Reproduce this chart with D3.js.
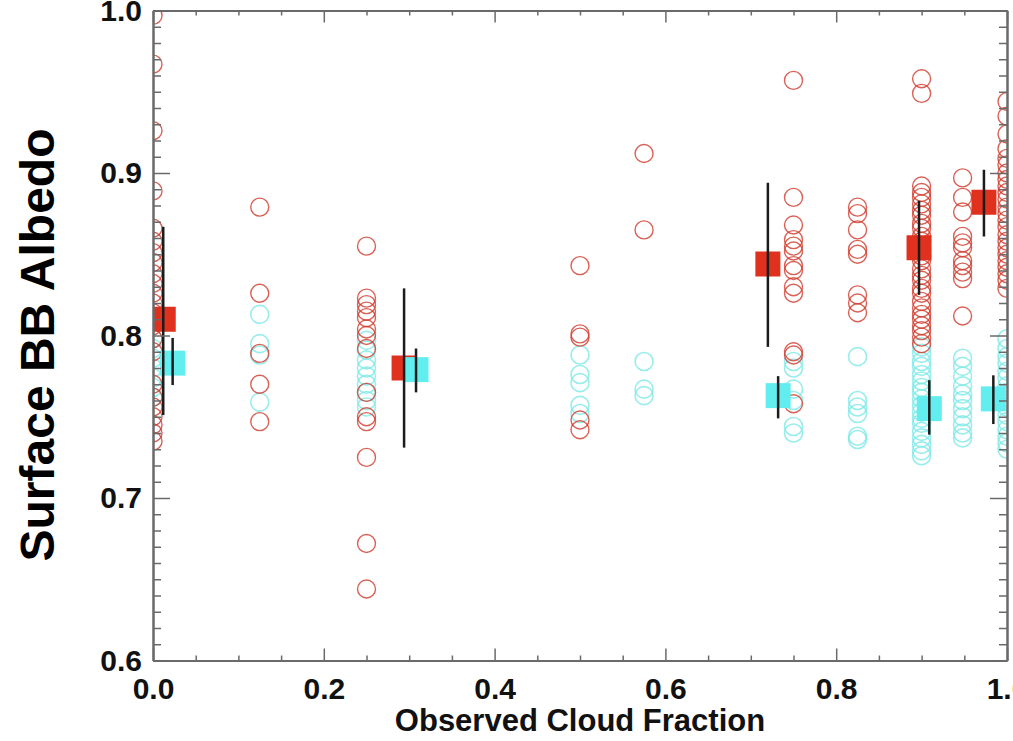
<!DOCTYPE html>
<html>
<head>
<meta charset="utf-8">
<script src="https://cdn.jsdelivr.net/npm/d3@7"></script>
<style>
  body { margin: 0; background: #fff; }
  svg { display: block; font-family: "Liberation Sans", Arial, sans-serif; }
</style>
</head>
<body>
<div id="chart"></div>
<script>
// observed cloud fraction of each column of points
var columns = [0.0, 0.125, 0.25, 0.5, 0.575, 0.75, 0.825, 0.9, 0.948, 1.0];

// red: individual albedo points per column
var redObs = [
  [0.997, 0.967, 0.926, 0.889, 0.866, 0.858, 0.851, 0.845, 0.838, 0.832, 0.826, 0.820, 0.814, 0.806, 0.798, 0.790, 0.770, 0.762, 0.756, 0.750, 0.745, 0.740, 0.735],
  [0.879, 0.826, 0.789, 0.770, 0.747],
  [0.855, 0.823, 0.819, 0.815, 0.811, 0.804, 0.800, 0.792, 0.765, 0.750, 0.747, 0.725, 0.672, 0.644],
  [0.843, 0.801, 0.799, 0.748, 0.742],
  [0.912, 0.865],
  [0.957, 0.885, 0.868, 0.859, 0.855, 0.852, 0.843, 0.840, 0.830, 0.826, 0.790, 0.788, 0.758],
  [0.879, 0.875, 0.865, 0.853, 0.850, 0.825, 0.820, 0.814],
  [0.958, 0.949, 0.892, 0.888, 0.885, 0.881, 0.877, 0.874, 0.869, 0.866, 0.861, 0.858, 0.853, 0.849, 0.846, 0.841, 0.837, 0.834, 0.829, 0.826, 0.821, 0.817, 0.813, 0.810, 0.806, 0.803, 0.799, 0.795],
  [0.897, 0.885, 0.876, 0.861, 0.857, 0.854, 0.846, 0.843, 0.839, 0.835, 0.812],
  [0.944, 0.935, 0.924, 0.915, 0.909, 0.905, 0.900, 0.896, 0.892, 0.888, 0.884, 0.879, 0.875, 0.871, 0.867, 0.862, 0.858, 0.854, 0.850, 0.846, 0.842, 0.838, 0.834, 0.829]
];

// cyan: individual albedo points per column
var cyanObs = [
  [0.798, 0.792, 0.786, 0.780, 0.774, 0.768, 0.762],
  [0.813, 0.795, 0.788, 0.759],
  [0.797, 0.791, 0.785, 0.780, 0.775, 0.770, 0.765, 0.760, 0.756],
  [0.788, 0.776, 0.771, 0.757, 0.752],
  [0.784, 0.767, 0.763],
  [0.784, 0.780, 0.767, 0.760, 0.744, 0.740],
  [0.787, 0.760, 0.756, 0.752, 0.738, 0.736],
  [0.793, 0.789, 0.784, 0.781, 0.776, 0.772, 0.768, 0.765, 0.761, 0.757, 0.753, 0.749, 0.746, 0.741, 0.737, 0.733, 0.729, 0.726],
  [0.786, 0.781, 0.775, 0.769, 0.764, 0.760, 0.755, 0.750, 0.745, 0.740, 0.737],
  [0.798, 0.792, 0.787, 0.783, 0.778, 0.774, 0.769, 0.765, 0.760, 0.756, 0.751, 0.747, 0.742, 0.738, 0.734, 0.730]
];

// binned means with error bar ends
var redMeanX = [0.012, 0.294, 0.720, 0.897, 0.973];
var redMean  = [0.810, 0.780, 0.844, 0.854, 0.882];
var redLow   = [0.751, 0.731, 0.793, 0.825, 0.861];
var redHigh  = [0.867, 0.829, 0.894, 0.883, 0.902];

var cyanMeanX = [0.023, 0.308, 0.732, 0.909, 0.984];
var cyanMean  = [0.783, 0.779, 0.763, 0.755, 0.761];
var cyanLow   = [0.7695, 0.765, 0.749, 0.739, 0.7455];
var cyanHigh  = [0.7985, 0.792, 0.775, 0.7725, 0.7755];

var xTicks = [0.0, 0.2, 0.4, 0.6, 0.8, 1.0];
var yTicks = [0.6, 0.7, 0.8, 0.9, 1.0];

var width = 1013, height = 741;
var plotLeft = 153, plotRight = 1007, plotTop = 10.5, plotBottom = 660.5;
var axisColor = '#6a6a6a';

var x = d3.scaleLinear().domain([0, 1]).range([plotLeft, plotRight]);
var y = d3.scaleLinear().domain([0.6, 1.0]).range([plotBottom, plotTop]);

var svg = d3.select('#chart').append('svg')
  .attr('width', width)
  .attr('height', height);

svg.append('clipPath').attr('id', 'plotclip')
  .append('rect')
  .attr('x', plotLeft).attr('y', plotTop)
  .attr('width', plotRight - plotLeft).attr('height', plotBottom - plotTop);

// points, flattened from the per-column arrays
function flatten(obs) {
  var pts = [];
  obs.forEach(function(col, i) {
    col.forEach(function(v) { pts.push({cf: columns[i], a: v}); });
  });
  return pts;
}

var pts = svg.append('g').attr('clip-path', 'url(#plotclip)');

pts.selectAll('circle.cyan')
  .data(flatten(cyanObs))
  .enter().append('circle')
  .attr('class', 'cyan')
  .attr('cx', function(d) { return x(d.cf); })
  .attr('cy', function(d) { return y(d.a); })
  .attr('r', 9)
  .attr('fill', 'none')
  .attr('stroke', '#7fe9e7')
  .attr('stroke-opacity', 0.8)
  .attr('stroke-width', 1.6);

pts.selectAll('circle.red')
  .data(flatten(redObs))
  .enter().append('circle')
  .attr('class', 'red')
  .attr('cx', function(d) { return x(d.cf); })
  .attr('cy', function(d) { return y(d.a); })
  .attr('r', 9)
  .attr('fill', 'none')
  .attr('stroke', '#cf3a2c')
  .attr('stroke-opacity', 0.8)
  .attr('stroke-width', 1.4);

// mean squares
var sq = 25;
pts.selectAll('rect.redmean')
  .data(redMean)
  .enter().append('rect')
  .attr('x', function(d, i) { return x(redMeanX[i]) - sq / 2; })
  .attr('y', function(d) { return y(d) - sq / 2; })
  .attr('width', sq).attr('height', sq)
  .attr('fill', '#e0301e');

pts.selectAll('rect.cyanmean')
  .data(cyanMean)
  .enter().append('rect')
  .attr('x', function(d, i) { return x(cyanMeanX[i]) - sq / 2; })
  .attr('y', function(d) { return y(d) - sq / 2; })
  .attr('width', sq).attr('height', sq)
  .attr('fill', '#62eeee');

// error bars
function errorBars(xs, lo, hi) {
  pts.append('g').selectAll('line')
    .data(lo)
    .enter().append('line')
    .attr('x1', function(d, i) { return x(xs[i]); })
    .attr('x2', function(d, i) { return x(xs[i]); })
    .attr('y1', function(d) { return y(d); })
    .attr('y2', function(d, i) { return y(hi[i]); })
    .attr('stroke', '#1c1c1c')
    .attr('stroke-width', 2.5);
}
errorBars(redMeanX, redLow, redHigh);
errorBars(cyanMeanX, cyanLow, cyanHigh);

// axes: ticks point inward on all four sides
var xMinor = d3.range(0, 21).map(function(i) { return i * 0.05; })
  .filter(function(v) { return Math.abs(v * 5 - Math.round(v * 5)) > 1e-6; });
var yMinor = d3.range(0, 41).map(function(i) { return 0.6 + i * 0.01; })
  .filter(function(v) { return Math.abs(v * 10 - Math.round(v * 10)) > 1e-6; });

function styleAxis(g) {
  g.select('.domain').attr('stroke', axisColor).attr('stroke-width', 2);
  g.selectAll('.tick line').attr('stroke', axisColor).attr('stroke-width', 1.5);
  g.selectAll('text')
    .attr('fill', '#111')
    .attr('font-size', 30)
    .attr('font-weight', 'bold')
    .attr('font-family', '"Liberation Sans", Arial, sans-serif');
}

var fmt = d3.format('.1f');

svg.append('g').attr('transform', 'translate(0,' + plotBottom + ')')
  .call(d3.axisBottom(x).tickValues(xTicks).tickFormat(fmt)
    .tickSize(-12).tickSizeOuter(0).tickPadding(17))
  .call(styleAxis);
svg.append('g').attr('transform', 'translate(0,' + plotBottom + ')')
  .call(d3.axisBottom(x).tickValues(xMinor).tickFormat('').tickSize(-5).tickSizeOuter(0))
  .call(styleAxis);

svg.append('g').attr('transform', 'translate(0,' + plotTop + ')')
  .call(d3.axisTop(x).tickValues(xTicks).tickFormat('').tickSize(-12).tickSizeOuter(0))
  .call(styleAxis);
svg.append('g').attr('transform', 'translate(0,' + plotTop + ')')
  .call(d3.axisTop(x).tickValues(xMinor).tickFormat('').tickSize(-5).tickSizeOuter(0))
  .call(styleAxis);

svg.append('g').attr('transform', 'translate(' + plotLeft + ',0)')
  .call(d3.axisLeft(y).tickValues(yTicks).tickFormat(fmt)
    .tickSize(-17).tickSizeOuter(0).tickPadding(11))
  .call(styleAxis);
svg.append('g').attr('transform', 'translate(' + plotLeft + ',0)')
  .call(d3.axisLeft(y).tickValues(yMinor).tickFormat('').tickSize(-8).tickSizeOuter(0))
  .call(styleAxis);

svg.append('g').attr('transform', 'translate(' + plotRight + ',0)')
  .call(d3.axisRight(y).tickValues(yTicks).tickFormat('').tickSize(-17).tickSizeOuter(0))
  .call(styleAxis);
svg.append('g').attr('transform', 'translate(' + plotRight + ',0)')
  .call(d3.axisRight(y).tickValues(yMinor).tickFormat('').tickSize(-8).tickSizeOuter(0))
  .call(styleAxis);

// axis titles
svg.append('text')
  .attr('x', (plotLeft + plotRight) / 2)
  .attr('y', 731)
  .attr('text-anchor', 'middle')
  .attr('font-size', 31)
  .attr('font-weight', 'bold')
  .attr('fill', '#111')
  .text('Observed Cloud Fraction');

svg.append('text')
  .attr('transform', 'translate(54,345) rotate(-90)')
  .attr('text-anchor', 'middle')
  .attr('font-size', 48)
  .attr('font-weight', 'bold')
  .attr('fill', '#000')
  .text('Surface BB Albedo');
</script>
</body>
</html>
